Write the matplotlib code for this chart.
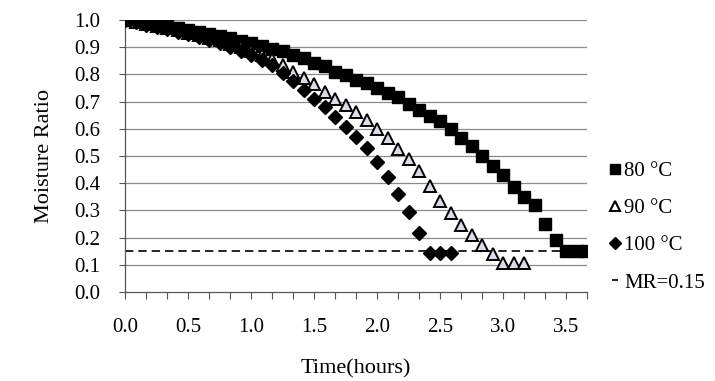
import numpy as np
import matplotlib.pyplot as plt
from matplotlib.lines import Line2D

plt.rcParams['font.family'] = ['Liberation Serif', 'DejaVu Serif']

# sampling interval: 5 minutes
step_min = 5

mr_80 = [1.000, 0.995, 0.990, 0.985, 0.978, 0.970, 0.962, 0.955, 0.947, 0.940,
         0.932, 0.923, 0.914, 0.905, 0.895, 0.885, 0.873, 0.860, 0.842, 0.830,
         0.810, 0.797, 0.780, 0.768, 0.750, 0.731, 0.718, 0.692, 0.670, 0.646,
         0.628, 0.600, 0.568, 0.535, 0.500, 0.462, 0.430, 0.385, 0.350, 0.320,
         0.250, 0.190, 0.150, 0.150, 0.150]

mr_90 = [1.000, 0.993, 0.985, 0.978, 0.970, 0.962, 0.953, 0.944, 0.935, 0.925,
         0.913, 0.900, 0.886, 0.871, 0.855, 0.833, 0.810, 0.786, 0.765, 0.736,
         0.710, 0.686, 0.662, 0.632, 0.598, 0.566, 0.527, 0.488, 0.445, 0.390,
         0.336, 0.290, 0.246, 0.208, 0.173, 0.140, 0.105, 0.105, 0.105]

mr_100 = [1.000, 0.992, 0.983, 0.975, 0.966, 0.957, 0.947, 0.937, 0.926, 0.914,
          0.900, 0.886, 0.870, 0.853, 0.833, 0.805, 0.774, 0.743, 0.710, 0.680,
          0.644, 0.608, 0.569, 0.530, 0.477, 0.422, 0.360, 0.295, 0.218, 0.145,
          0.145, 0.145]

mr_limit = 0.15

t_80 = np.arange(len(mr_80)) * step_min / 60
t_90 = np.arange(len(mr_90)) * step_min / 60
t_100 = np.arange(len(mr_100)) * step_min / 60
t_end = t_80[-1]

fig = plt.figure(figsize=(7.15, 3.81), dpi=100)
ax = fig.add_axes([125 / 715, 1 - 292 / 381, (587 - 125) / 715, (292 - 20) / 381])

# horizontal grid
for g in np.arange(0.1, 1.01, 0.1):
    ax.axhline(g, color='#8a8a8a', lw=0.9, zorder=1)

ax.plot([0, t_end], [mr_limit, mr_limit], color='black', lw=1.2,
        ls=(0, (5, 3)), zorder=2)

ax.plot(t_80, mr_80, ls='none', marker='s', ms=8, mfc='black', mec='black', zorder=3)
ax.plot(t_90, mr_90, ls='none', marker='^', ms=9, mfc='#dcdce6', mec='black',
        mew=1.4, zorder=4)
ax.plot(t_100, mr_100, ls='none', marker='D', ms=7, mfc='black', mec='black', zorder=5)

ax.set_xlim(0, t_end)
ax.set_ylim(0, 1.0)
ax.set_yticks(np.arange(0, 1.01, 0.1))
ax.set_yticklabels([f'{v:.1f}' for v in np.arange(0, 1.01, 0.1)], fontsize=15)

xt = np.arange(0, 23) / 6
ax.set_xticks(xt)
ax.set_xticklabels([f'{v:.1f}' if i % 3 == 0 else '' for i, v in enumerate(xt)],
                   fontsize=15)
ax.tick_params(axis='x', length=5, width=0.8, pad=14, color='#555555')
ax.tick_params(axis='y', length=4, width=0.8, pad=14, color='#555555')

for s in ['top', 'right']:
    ax.spines[s].set_visible(False)
for s in ['left', 'bottom']:
    ax.spines[s].set_color('#555555')
    ax.spines[s].set_linewidth(0.9)

ax.set_ylabel('Moisture Ratio', fontsize=16, labelpad=14)
ax.set_xlabel('Time(hours)', fontsize=16, labelpad=16)

handles = [
    Line2D([], [], ls='none', marker='s', ms=7, mfc='black', mec='black'),
    Line2D([], [], ls='none', marker='^', ms=7.5, mfc='white', mec='black', mew=1.5),
    Line2D([], [], ls='none', marker='D', ms=6, mfc='black', mec='black'),
    Line2D([], [], ls='none', marker='_', ms=5, mec='black', mew=1.2),
]
labels = ['80 °C', '90 °C', '100 °C', 'MR=0.15']
fig.legend(handles, labels, loc='center left', bbox_to_anchor=(597 / 715, 1 - 227 / 381),
           frameon=False, fontsize=15, handlelength=0.7, handletextpad=0.1,
           labelspacing=0.85, borderpad=0)

fig.savefig('out.png', dpi=100)
